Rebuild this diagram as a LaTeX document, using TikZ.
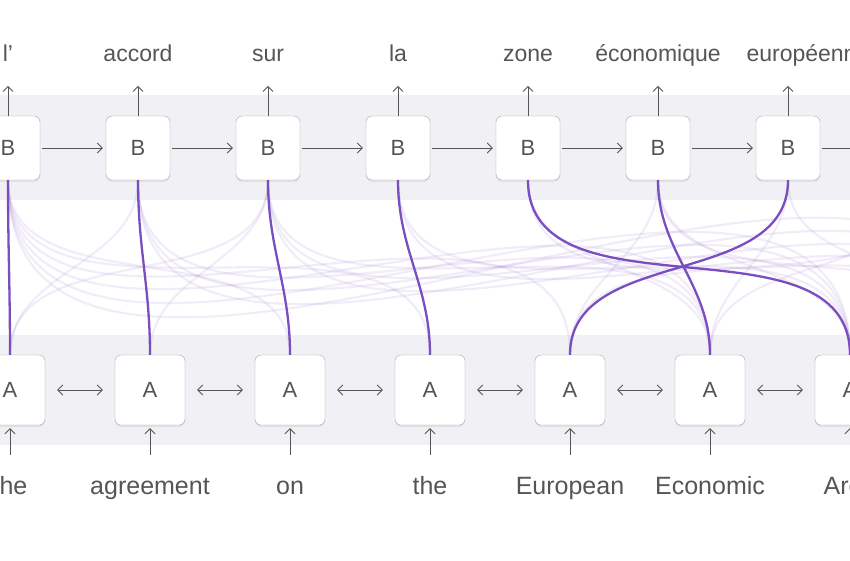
\documentclass[tikz,border=0pt]{standalone}
\usepackage{fontspec}
\setmainfont{Liberation Sans}
\usetikzlibrary{arrows.meta, positioning, shadows}
\definecolor{bandgray}{RGB}{241,240,245}
\definecolor{attnviolet}{RGB}{122,78,190}
\definecolor{textgray}{RGB}{85,85,85}

\begin{document}
\begin{tikzpicture}[
        x=1pt, y=-1pt,
        cell/.style={rectangle, draw=black!35, fill=white, rounded corners=6pt, minimum width=64pt, minimum height=64pt, font=\fontsize{22}{24}\selectfont, text=textgray, drop shadow={opacity=0.12, shadow xshift=0pt, shadow yshift=-2pt}},
        word/.style={font=\fontsize{25}{28}\selectfont, text=textgray, text height=19pt, text depth=6pt},
        flow/.style={-{Straight Barb[length=5pt, width=10pt]}, draw=textgray, line width=0.9pt},
        strong/.style={draw=attnviolet, line width=2.3pt},
        faint/.style={draw=attnviolet, line width=2.2pt, opacity=0.1}
    ]
        \useasboundingbox (0,0) rectangle (850,560);
        \clip (0,0) rectangle (850,560);
        \fill[bandgray] (0,95) rectangle (850,200);
        \fill[bandgray] (0,335) rectangle (850,445);

        % decoder row
        \foreach \i/\w in {0/l’,1/accord,2/sur,3/la,4/zone,5/économique,7/} {
            \node[cell] (b\i) at (8+130*\i,148) {B};
            \node[word, font=\fontsize{23}{26}\selectfont] (bw\i) at (8+130*\i,55) {\w};
            \draw[flow] (b\i.north) -- ++(0,-30);
        }
        \node[cell] (b6) at (788,148) {B};
        \node[word, font=\fontsize{23}{26}\selectfont, anchor=west] (bw6) at (743,55) {européenne};
        \draw[flow] (b6.north) -- ++(0,-30);
        \foreach \i [evaluate=\i as \j using int(\i+1)] in {0,...,6}
            \draw[flow, shorten <=2pt, shorten >=3pt] (b\i) -- (b\j);

        % encoder row
        \foreach \i/\w in {0/the,1/agreement,2/on,3/the,4/European,5/Economic,6/Area,7/} {
            \node[cell, minimum width=70pt, minimum height=70pt] (a\i) at (10+140*\i,390) {A};
            \node[word] (aw\i) at (10+140*\i,488) {\w};
            \draw[flow] (a\i.south) ++(0,30) -- ([yshift=-3pt]a\i.south);
        }
        \foreach \i [evaluate=\i as \j using int(\i+1)] in {0,...,6}
            \draw[flow, {Straight Barb[length=5pt, width=10pt]}-{Straight Barb[length=5pt, width=10pt]}, shorten <=12pt, shorten >=12pt] (a\i) -- (a\j);

        % attention
        \foreach \i/\j in {0/2,0/3,0/4,0/5,0/6,0/7,1/0,1/5,1/6,1/7,2/0,2/1,2/5,2/6,2/7,3/6,3/7,4/5,4/7,5/4,5/6,5/7,6/5,6/7,7/4,7/5,7/6}
            \draw[faint] (b\i.south) to[out=-90, in=90] (a\j.north);
        \foreach \i/\j in {0/0,1/1,2/2,3/3,4/6,5/5,6/4}
            \draw[strong] (b\i.south) to[out=-90, in=90] (a\j.north);
\end{tikzpicture}
\end{document}
